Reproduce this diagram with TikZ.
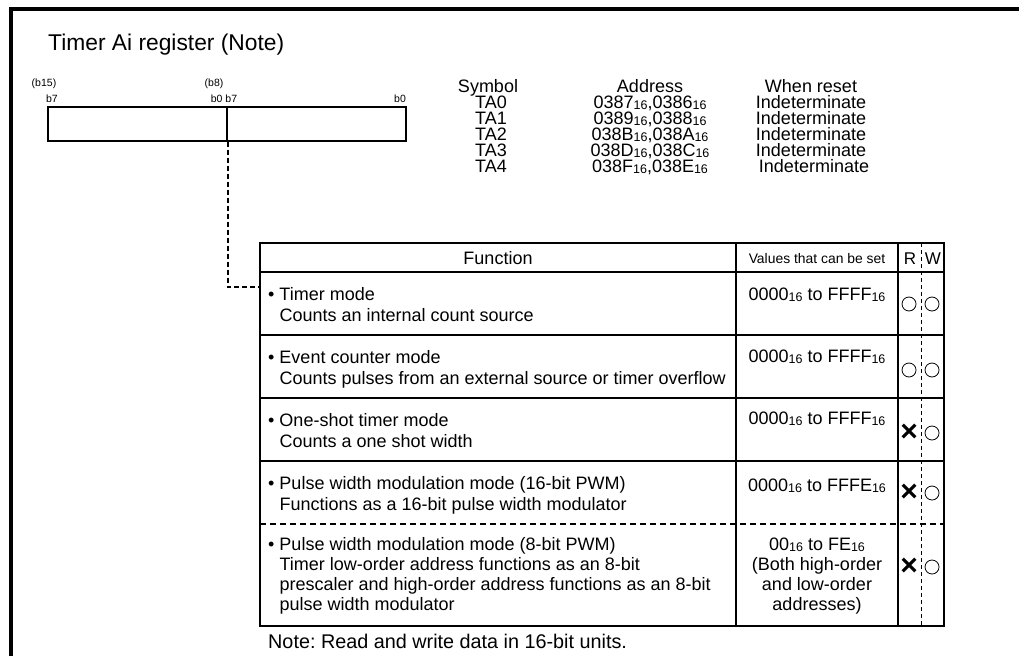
\documentclass[tikz,border=0pt]{standalone}
\usepackage{fontspec}
\setmainfont{Liberation Sans}
\usepackage{tikz}
\frenchspacing

\newcommand{\hx}[1]{#1\raisebox{-0.2ex}{\fontsize{12.5}{12.5}\selectfont 16}}

\begin{document}
\begin{tikzpicture}[x=1pt,y=-1pt]

	\useasboundingbox (0,0) rectangle (1019,656);

	\tikzstyle{edge} = [draw,-]
	\tikzset{txt/.style = {inner sep=0pt, font=\fontsize{18}{21}\selectfont}}
	\tikzset{tiny/.style = {inner sep=0pt, font=\fontsize{10.5}{12}\selectfont}}
	\tikzset{reg/.style = {draw, line width=1.1pt, minimum width=179pt, minimum height=34pt, inner sep=0pt}}
	\tikzset{yes/.style = {draw, circle, line width=0.8pt, minimum size=14pt, inner sep=0pt}}
	\tikzset{no/.style = {inner sep=0pt, font=\fontsize{30}{30}\selectfont\bfseries}}

	% frame
	\draw[line width=4pt] (11,656) -- (11,9) -- (1019,9);

	\node[anchor=base west, inner sep=0pt, font=\fontsize{22.8}{26}\selectfont] (title) at (48,50) {Timer Ai register (Note)};

	% register
	\node[reg] (hi) at (137.5,124) {};
	\node[reg] (lo) at (316.5,124) {};
	\node[tiny, anchor=base] (b15) at (44,86) {(b15)};
	\node[tiny, anchor=base] (b7h) at (52,102) {b7};
	\node[tiny, anchor=base] (b8) at (214,86) {(b8)};
	\node[tiny, anchor=base] (b0b7) at (224,102) {b0 b7};
	\node[tiny, anchor=base] (b0) at (400,102) {b0};

	% symbol / address / reset
	\node[txt, anchor=base] (sym) at (488,92) {Symbol};
	\node[txt, anchor=base] (adr) at (650,92) {Address};
	\node[txt, anchor=base] (rst) at (811,92) {When reset};
	\node[txt, anchor=base] (ta0) at (491,108) {TA0};
	\node[txt, anchor=base] (ta1) at (491,124) {TA1};
	\node[txt, anchor=base] (ta2) at (491,140) {TA2};
	\node[txt, anchor=base] (ta3) at (491,156) {TA3};
	\node[txt, anchor=base] (ta4) at (491,172) {TA4};
	\node[txt, anchor=base] (ad0) at (650,108) {\hx{0387},\hx{0386}};
	\node[txt, anchor=base] (ad1) at (650,124) {\hx{0389},\hx{0388}};
	\node[txt, anchor=base] (ad2) at (650,140) {\hx{038B},\hx{038A}};
	\node[txt, anchor=base] (ad3) at (650,156) {\hx{038D},\hx{038C}};
	\node[txt, anchor=base] (ad4) at (650,172) {\hx{038F},\hx{038E}};
	\node[txt, anchor=base] (rs0) at (811,108) {Indeterminate};
	\node[txt, anchor=base] (rs1) at (811,124) {Indeterminate};
	\node[txt, anchor=base] (rs2) at (811,140) {Indeterminate};
	\node[txt, anchor=base] (rs3) at (811,156) {Indeterminate};
	\node[txt, anchor=base] (rs4) at (814,172) {Indeterminate};

	% table
	\draw[line width=1.2pt] (260,243) rectangle (944,626);
	\draw[edge, line width=1.8pt] (736,243) -- (736,626);
	\draw[edge, line width=1.8pt] (898,243) -- (898,626);
	\draw[edge, line width=0.8pt, dash pattern=on 4pt off 3pt] (921,243) -- (921,626);
	\draw[edge, line width=1.8pt] (260,272) -- (944,272);
	\draw[edge, line width=1.8pt] (260,335) -- (944,335);
	\draw[edge, line width=1.8pt] (260,398) -- (944,398);
	\draw[edge, line width=1.8pt] (260,461) -- (944,461);
	\draw[edge, line width=1.6pt, dash pattern=on 6pt off 4pt] (260,524) -- (944,524);

	\node[txt, anchor=base] (fn) at (498,264) {Function};
	\node[inner sep=0pt, anchor=base, font=\fontsize{13.9}{16}\selectfont] (val) at (817,263) {Values that can be set};
	\node[inner sep=0pt, anchor=base, font=\fontsize{17}{18}\selectfont] (rh) at (910,264) {R};
	\node[inner sep=0pt, anchor=base, font=\fontsize{17}{18}\selectfont] (wh) at (933,264) {W};

	\node[txt, anchor=base west, align=left] (f1) at (268,321) {\textbullet\ Timer mode\\\hphantom{\textbullet\ }Counts an internal count source};
	\node[txt, anchor=base west, align=left] (f2) at (268,384) {\textbullet\ Event counter mode\\\hphantom{\textbullet\ }Counts pulses from an external source or timer overflow};
	\node[txt, anchor=base west, align=left] (f3) at (268,447) {\textbullet\ One-shot timer mode\\\hphantom{\textbullet\ }Counts a one shot width};
	\node[txt, anchor=base west, align=left] (f4) at (268,510) {\textbullet\ Pulse width modulation mode (16-bit PWM)\\\hphantom{\textbullet\ }Functions as a 16-bit pulse width modulator};
	\node[txt, anchor=base west, align=left, font=\fontsize{18}{20}\selectfont] (f5) at (268,610) {\textbullet\ Pulse width modulation mode (8-bit PWM)\\\hphantom{\textbullet\ }Timer low-order address functions as an 8-bit\\\hphantom{\textbullet\ }prescaler and high-order address functions as an 8-bit\\\hphantom{\textbullet\ }pulse width modulator};

	\node[txt, anchor=base] (v1) at (817,300) {\hx{0000} to \hx{FFFF}};
	\node[txt, anchor=base] (v2) at (817,362) {\hx{0000} to \hx{FFFF}};
	\node[txt, anchor=base] (v3) at (817,424) {\hx{0000} to \hx{FFFF}};
	\node[txt, anchor=base] (v4) at (817,491) {\hx{0000} to \hx{FFFE}};
	\node[txt, anchor=base, align=center, font=\fontsize{18}{20}\selectfont] (v5) at (817,610) {\hx{00} to \hx{FE}\\(Both high-order\\and low-order\\addresses)};

	\node[yes] (r1) at (909,304) {};
	\node[yes] (w1) at (932,304) {};
	\node[yes] (r2) at (909,370) {};
	\node[yes] (w2) at (932,370) {};
	\node[no] (r3) at (909,433) {×};
	\node[yes] (w3) at (932,433) {};
	\node[no] (r4) at (909,493) {×};
	\node[yes] (w4) at (932,493) {};
	\node[no] (r5) at (909,567) {×};
	\node[yes] (w5) at (932,567) {};

	\node[anchor=base west, inner sep=0pt, font=\fontsize{19.8}{22}\selectfont] (note) at (268,648) {Note: Read and write data in 16-bit units.};

	% link from register to table
	\coordinate (tin) at (260,287);
	\draw[edge, line width=2pt, dash pattern=on 5pt off 3pt] (hi.south east) |- (tin);
\end{tikzpicture}
\end{document}
